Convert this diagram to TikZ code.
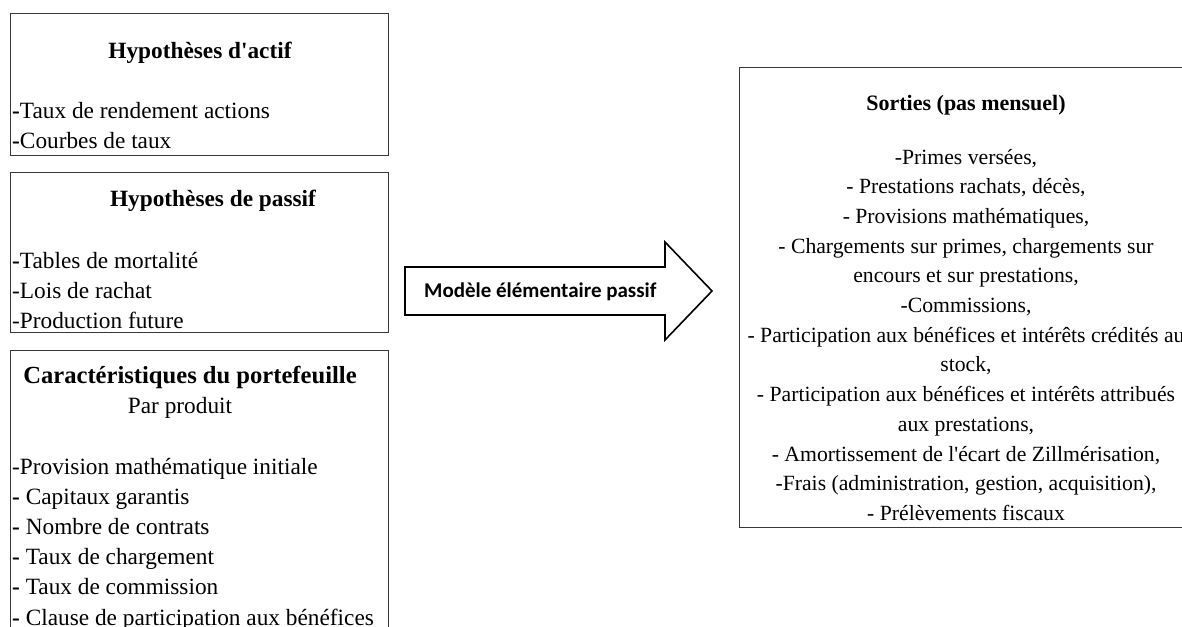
\documentclass[tikz,border=0pt]{standalone}
\usepackage{fontspec}
\setmainfont{Liberation Serif}[Ligatures=TeXOff]
\newfontfamily\calibri{Carlito}
\newcommand{\bh}{\textbf{-}}
\begin{document}
\begin{tikzpicture}[x=1pt,y=-1pt,
  frame/.style={draw=black!78,line width=1.3pt,fill=white,inner sep=0pt,anchor=north west},
  ltxt/.style={inner sep=0pt,font=\fontsize{23.3}{28}\selectfont,text=black},
  lttl/.style={inner sep=0pt,font=\fontsize{23.3}{28}\selectfont\bfseries,text=black,anchor=base},
  rtxt/.style={inner sep=0pt,font=\fontsize{21.7}{26}\selectfont,text=black,anchor=base},
  rttl/.style={inner sep=0pt,font=\fontsize{22}{26}\selectfont\bfseries,text=black,anchor=base},
  item/.style={ltxt,anchor=base west}]
\useasboundingbox (0,0) rectangle (1182,626);
\clip (0,0) rectangle (1182,626);
\fill[white] (0,0) rectangle (1182,626);

% input boxes on the left
\node[frame,minimum width=378pt,minimum height=142pt] (actif) at (10,13) {};
\node[frame,minimum width=378pt,minimum height=160pt] (passif) at (10,172) {};
\node[frame,minimum width=378pt,minimum height=300pt] (port) at (10,350) {};

% outputs box on the right
\node[frame,minimum width=454pt,minimum height=460pt] (sorties) at (739,67) {};

% asset assumptions
\node[lttl] (actifT) at (200,59) {Hypothèses d'actif};
\node[item] (a1) at (12,118) {\bh Taux de rendement actions};
\node[item] (a2) at (12,148) {\bh Courbes de taux};

% liability assumptions
\node[lttl] (passifT) at (213,206) {Hypothèses de passif};
\node[item] (p1) at (12,268) {\bh Tables de mortalité};
\node[item] (p2) at (12,298) {-Lois de rachat};
\node[item] (p3) at (12,328) {-Production future};

% portfolio characteristics
\node[lttl,font=\fontsize{24.6}{28}\selectfont\bfseries] (portT) at (190,383) {Caractéristiques du portefeuille};
\node[ltxt,anchor=base] (portS) at (180,413) {Par produit};
\node[item] (c1) at (12,474) {-Provision mathématique initiale};
\foreach \t [count=\i from 2] in {Capitaux garantis,Nombre de contrats,Taux de chargement,Taux de commission,Clause de participation aux bénéfices}
  \node[item] (c\i) at (12,{474+30.2*(\i-1)}) {\bh{} \t};

% block arrow for the liability model
\draw[line width=1.6pt,fill=white,line join=miter]
  (405,267) -- (665,267) -- (665,242) -- (712,291) -- (665,340) -- (665,315) -- (405,315) -- cycle;
\node[inner sep=0pt,anchor=base west,font=\calibri\bfseries\fontsize{21}{24}\selectfont] (modele) at (424,297) {Modèle élémentaire passif};

% outputs
\node[rttl] (sortiesT) at (966,110) {Sorties (pas mensuel)};
\foreach \t [count=\i] in {-Primes versées{,},- Prestations rachats{,} décès{,},- Provisions mathématiques{,},- Chargements sur primes{,} chargements sur,encours et sur prestations{,},-Commissions{,},- Participation aux bénéfices et intérêts crédités au,stock{,},- Participation aux bénéfices et intérêts attribués,aux prestations{,},- Amortissement de l'écart de Zillmérisation{,},-Frais (administration{,} gestion{,} acquisition){,},- Prélèvements fiscaux}
  \node[rtxt] (s\i) at (966,{164+29.7*(\i-1)}) {\t};
\end{tikzpicture}
\end{document}
